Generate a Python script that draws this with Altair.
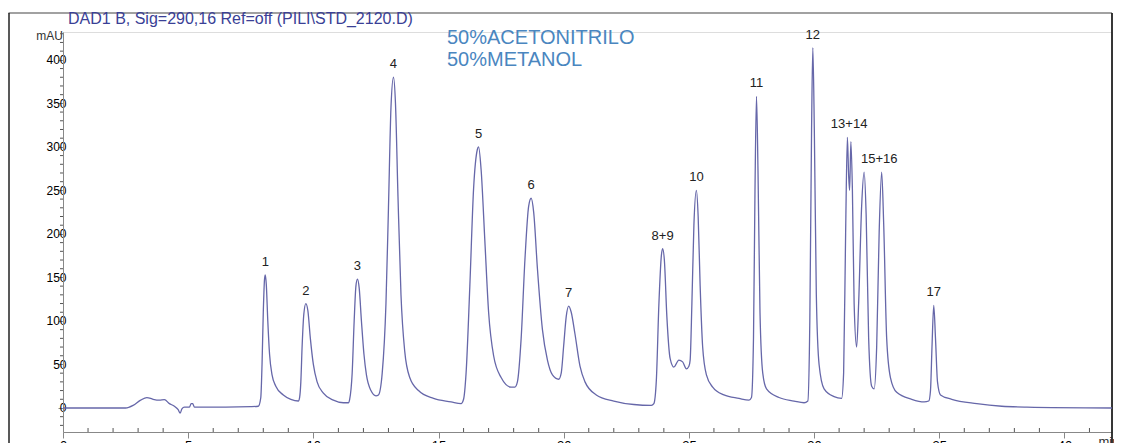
import altair as alt
import pandas as pd

# Chromatogram trace (time in min, signal in mAU)
trace_t = [0.0, 2.5, 2.8, 3.1, 3.35, 3.6, 3.85, 4.05, 4.25, 4.45, 4.6, 4.68, 4.75, 4.85, 5.05, 5.12, 5.18, 5.25, 5.6, 6.5, 7.5,
           7.8, 7.9, 7.95, 8.0, 8.05, 8.08, 8.12, 8.18, 8.25, 8.35, 8.5, 8.8, 9.1, 9.4,
           9.45, 9.5, 9.55, 9.62, 9.7, 9.78, 9.88, 10.0, 10.15, 10.4, 10.8, 11.2, 11.4,
           11.45, 11.55, 11.63, 11.7, 11.76, 11.83, 11.92, 12.02, 12.12, 12.3, 12.5,
           12.6, 12.75, 12.9, 13.0, 13.1, 13.2, 13.28, 13.38, 13.5, 13.65, 13.85, 14.2, 14.8, 15.5, 15.9,
           16.0, 16.1, 16.25, 16.4, 16.55, 16.6, 16.7, 16.85, 17.0, 17.2, 17.5, 17.9, 18.05,
           18.15, 18.3, 18.45, 18.6, 18.7, 18.8, 18.95, 19.15, 19.35, 19.55, 19.8,
           19.9, 20.0, 20.1, 20.2, 20.3, 20.45, 20.65, 20.85, 21.3, 22.0, 22.8, 23.5,
           23.6, 23.7, 23.8, 23.9, 23.95, 24.02, 24.12, 24.25, 24.4, 24.6, 24.75, 24.9, 25.0,
           25.05, 25.12, 25.2, 25.3, 25.37, 25.45, 25.55, 25.7, 25.95, 26.4, 27.0, 27.4,
           27.5, 27.58, 27.64, 27.7, 27.76, 27.84, 27.95, 28.1, 28.6, 29.2, 29.6,
           29.75, 29.83, 29.9, 29.95, 30.01, 30.09, 30.2, 30.4, 30.8, 31.1,
           31.18, 31.26, 31.33, 31.38, 31.42, 31.47, 31.53, 31.6, 31.7,
           31.78, 31.9, 32.0, 32.08, 32.18, 32.3, 32.4, 32.5, 32.6, 32.7, 32.78, 32.9, 33.05, 33.3, 33.9, 34.4, 34.58,
           34.65, 34.71, 34.78, 34.85, 34.93, 35.05, 35.5, 36.5, 37.5, 38.5, 41.9]
trace_mau = [0, 0, 3, 9, 12, 10, 9, 9.5, 5, 2, -2, -6, -1, 1, 1, 5, 5, 1, 1, 1, 1.5,
             2, 12, 50, 110, 148, 153, 142, 100, 62, 38, 25, 15, 10, 8,
             12, 30, 70, 108, 120, 112, 80, 50, 30, 17, 9, 6, 6,
             10, 40, 100, 140, 148, 138, 100, 62, 38, 20, 14,
             15, 40, 120, 230, 345, 380, 350, 243, 130, 65, 35, 20, 11, 7, 5,
             10, 40, 140, 252, 297, 300, 274, 192, 110, 60, 35, 24, 24,
             30, 80, 170, 232, 241, 225, 160, 90, 55, 38, 33,
             40, 72, 105, 117, 110, 85, 48, 30, 15, 8, 4, 3,
             5, 32, 118, 175, 183, 170, 105, 57, 47, 55, 53, 45, 48,
             55, 120, 210, 250, 220, 140, 70, 38, 24, 15, 11, 9,
             12, 80, 250, 358, 273, 110, 40, 22, 12, 8, 6,
             8, 100, 320, 414, 320, 130, 50, 22, 13, 11,
             40, 200, 311, 268, 250, 306, 252, 120, 70,
             120, 232, 271, 222, 80, 25, 22, 70, 202, 271, 212, 80, 35, 18, 10, 7, 8,
             20, 70, 118, 80, 30, 15, 10, 5, 2, 1, 0]

peak_labels = ["1", "2", "3", "4", "5", "6", "7", "8+9", "10", "11", "12", "13+14", "15+16", "17"]
peak_t = [8.08, 9.7, 11.76, 13.2, 16.6, 18.7, 20.2, 23.95, 25.3, 27.7, 29.95, 31.4, 32.6, 34.78]
peak_h = [153, 120, 148, 380, 300, 241, 117, 183, 250, 358, 414, 311, 271, 118]

x_major = [0, 5, 10, 15, 20, 25, 30, 35, 40]
x_minor = [t for t in range(0, 42) if t % 5 != 0]
y_major = [0, 50, 100, 150, 200, 250, 300, 350, 400]
y_minor = [v for v in range(-20, 431, 10) if v % 50 != 0]

title_text = "DAD1 B, Sig=290,16 Ref=off (PILI\\STD_2120.D)"
note_lines = ["50%ACETONITRILO", "50%METANOL"]

trace = pd.DataFrame({"t": trace_t, "mau": trace_mau})
peaks = pd.DataFrame({"label": peak_labels, "t": peak_t, "mau": peak_h})

FONT = "Liberation Sans"
AXIS_COLOR = "#555555"

x_scale = alt.Scale(domain=[0, 41.9], nice=False, zero=False)
y_scale = alt.Scale(domain=[-27.6, 432], nice=False, zero=False)

x_axis = alt.Axis(
    values=x_major, tickSize=6, labelOverlap=False,
    title="min", titleAngle=0, titleAlign="left", titleBaseline="top",
    titleX=1035, titleY=3, titleFontWeight="normal", titleFontSize=13, titleFont=FONT,
    titleColor="#333333",
    labelPadding=1, labelFontSize=13, grid=False, labelFlush=False,
)
y_axis = alt.Axis(
    values=y_major, tickSize=5, labelOverlap=False,
    title="mAU", titleAngle=0, titleAlign="center", titleBaseline="middle",
    titleX=-14, titleY=3, titleFontWeight="normal", titleFontSize=12, titleFont=FONT,
    titleColor="#333333",
    labelPadding=-8, labelFontSize=12, grid=False, labelFlush=False,
)

line = alt.Chart(trace).mark_line(
    interpolate="monotone", color="#6667a9", strokeWidth=1.3, clip=False
).encode(
    x=alt.X("t:Q", scale=x_scale, axis=x_axis),
    y=alt.Y("mau:Q", scale=y_scale, axis=y_axis),
    order="t:Q",
)

x_minor_ticks = alt.Chart(pd.DataFrame({"t": x_minor})).mark_rule(color=AXIS_COLOR, strokeWidth=1).encode(
    x=alt.X("t:Q", scale=x_scale), y=alt.value(396), y2=alt.value(400)
)
y_minor_ticks = alt.Chart(pd.DataFrame({"v": y_minor})).mark_rule(color=AXIS_COLOR, strokeWidth=1).encode(
    y=alt.Y("v:Q", scale=y_scale), x=alt.value(-3), x2=alt.value(0)
)

labels = alt.Chart(peaks).mark_text(
    font=FONT, fontSize=13, color="#222222", dy=-13, baseline="middle", align="center"
).encode(
    x=alt.X("t:Q", scale=x_scale),
    y=alt.Y("mau:Q", scale=y_scale),
    text="label:N",
)

note = alt.Chart(pd.DataFrame({"text": [note_lines]})).mark_text(
    font=FONT, fontSize=20, color="#4a86bf", align="left", baseline="middle",
    lineBreak="\n", lineHeight=22
).encode(
    x=alt.value(384), y=alt.value(6), text="text"
)

title = alt.Chart(pd.DataFrame({"text": [title_text]})).mark_text(
    font=FONT, fontSize=16, color="#3a3f96", align="left", baseline="middle"
).encode(
    x=alt.value(5), y=alt.value(-13), text="text"
)

one = pd.DataFrame({"a": [0]})
frame_top = alt.Chart(one).mark_rule(color="#444444", strokeWidth=1.2, clip=False).encode(
    x=alt.value(-54.5), x2=alt.value(1049), y=alt.value(-19)
)
frame_left = alt.Chart(one).mark_rule(color="#222222", strokeWidth=1.5, clip=False).encode(
    x=alt.value(-54), y=alt.value(-19), y2=alt.value(430)
)
frame_right = alt.Chart(one).mark_rule(color="#222222", strokeWidth=1.8, clip=False).encode(
    x=alt.value(1049), y=alt.value(-19), y2=alt.value(430)
)

chart = alt.layer(
    frame_top, frame_left, frame_right, x_minor_ticks, y_minor_ticks, line, labels, note, title
).properties(
    width=1049, height=400,
    autosize=alt.AutoSizeParams(type="none"),
    padding={"left": 55, "top": 24, "right": 2, "bottom": 20},
).configure_view(stroke=None).configure_axis(
    domainColor=AXIS_COLOR, tickColor=AXIS_COLOR, labelColor="#333333",
    labelFont=FONT, domainWidth=1, tickWidth=1,
).configure(background="white")

chart.save("out.html", embed_options={"renderer": "svg", "actions": False})
